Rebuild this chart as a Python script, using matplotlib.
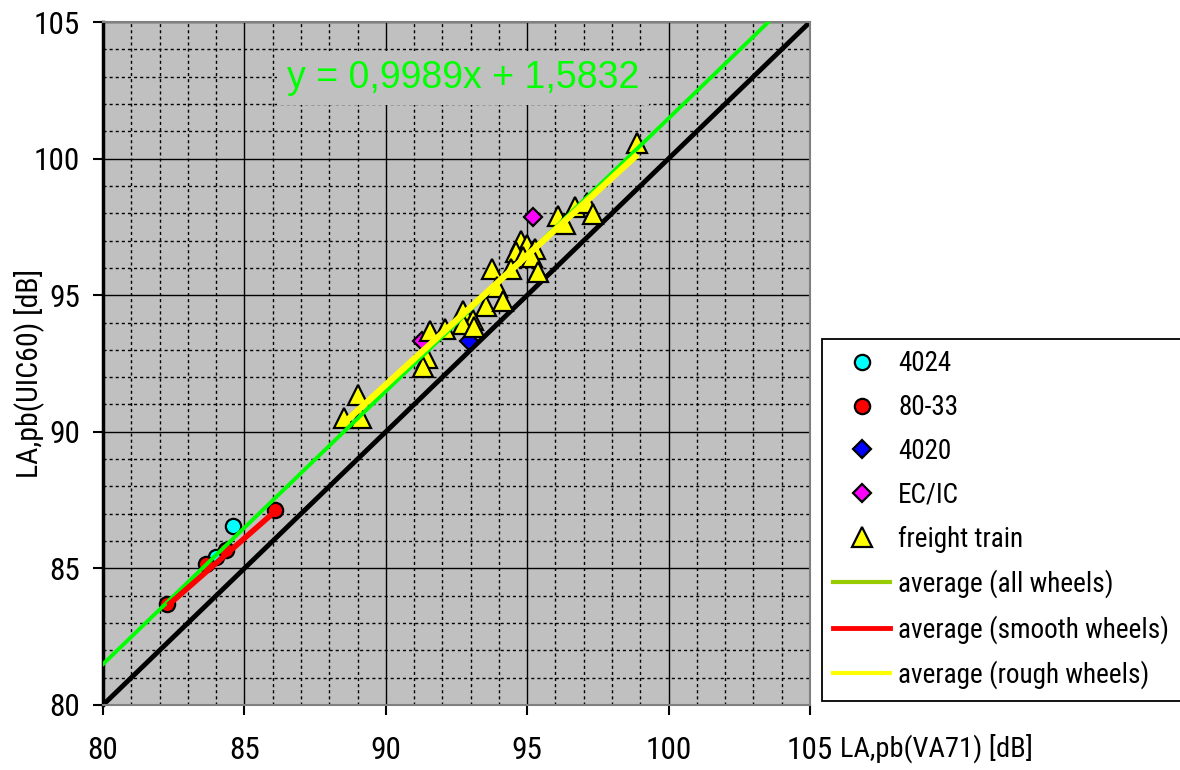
import os
import matplotlib
matplotlib.use("Agg")
import matplotlib.pyplot as plt
from matplotlib import font_manager as fm
from matplotlib.lines import Line2D
from matplotlib.ticker import MultipleLocator
import numpy as np

# Pass-by levels, VA71 (x) against UIC60 (y), in dB(A)
loco_4024_x = [84.6, 84.0]
loco_4024_y = [86.55, 85.4]

emu_8033_x = [82.27, 83.63, 84.34, 86.08]
emu_8033_y = [83.70, 85.16, 85.67, 87.14]

loco_4020_x = [92.94]
loco_4020_y = [93.33]

ecic_x = [91.27, 95.19]
ecic_y = [93.33, 97.87]

freight_x = [98.87, 96.10, 96.69, 97.10, 97.34, 96.34, 94.78, 94.98, 94.62, 95.28,
             94.84, 95.16, 95.39, 93.77, 94.43, 93.92, 93.56, 94.13, 92.72, 93.09,
             92.72, 93.12, 92.09, 91.58, 91.44, 91.30, 89.03, 88.53, 89.11]
freight_y = [100.58, 97.90, 98.22, 98.36, 97.99, 97.61, 96.98, 96.84, 96.59, 96.68,
             96.40, 96.40, 95.85, 95.97, 95.97, 95.30, 94.60, 94.79, 94.42, 94.09,
             93.95, 93.83, 93.75, 93.69, 92.71, 92.38, 91.35, 90.52, 90.52]

# Regression of all wheels: y = a*x + b
all_slope = 0.9989
all_intercept = 1.5832

# Averages for smooth and rough wheels (line ends)
smooth_fit_x = [82.3, 86.1]
smooth_fit_y = [83.65, 87.1]
rough_fit_x = [88.5, 98.9]
rough_fit_y = [90.3, 100.15]

x_ticks = [80, 85, 90, 95, 100, 105]
y_ticks = [80, 85, 90, 95, 100, 105]


def find_narrow_font():
    """Pick a narrow sans-serif face if one is installed."""
    files = [f.fname for f in fm.fontManager.ttflist]
    prefs = ['liberationsansnarrow-regular', 'arialnarrow', 'arialn.',
             'robotocondensed-regular', 'dejavusanscondensed.', 'opensans_condensed-regular',
             'opensanscondensed-regular', 'notosans-condensed.', 'notosanscondensed-regular']
    for p in prefs:
        for fn in files:
            if p in os.path.basename(fn).lower().replace(' ', ''):
                return fn
    for fn in files:
        b = os.path.basename(fn).lower()
        if ('narrow' in b or 'condensed' in b) and 'bold' not in b and 'italic' not in b \
                and 'oblique' not in b and 'light' not in b and 'semi' not in b:
            return fn
    return None


narrow_file = find_narrow_font()
regular = ['Liberation Sans', 'DejaVu Sans']
plt.rcParams['font.family'] = regular


def narrow_prop(size):
    if narrow_file:
        return fm.FontProperties(fname=narrow_file, size=size)
    return fm.FontProperties(family=regular, size=size * 0.85)


W, H = 1180, 770
fig = plt.figure(figsize=(W / 100, H / 100), dpi=100)
fig.patch.set_facecolor('white')
ax = fig.add_axes([103 / W, (H - 705) / H, (810 - 103) / W, (705 - 22) / H])
ax.set_facecolor('#C0C0C0')

ax.set_xlim(x_ticks[0], x_ticks[-1])
ax.set_ylim(y_ticks[0], y_ticks[-1])
ax.set_xticks(x_ticks)
ax.set_yticks(y_ticks)
ax.xaxis.set_minor_locator(MultipleLocator(1))
ax.yaxis.set_minor_locator(MultipleLocator(1))

ax.set_axisbelow(True)
ax.grid(which='major', color='black', linewidth=1.0, linestyle='-')
ax.grid(which='minor', color='black', linewidth=1.0, linestyle=(0, (2.2, 2.2)))
ax.tick_params(which='minor', length=0)
ax.tick_params(which='major', direction='out', length=7.5, width=1.5, color='black')
ax.tick_params(axis='y', pad=9)
ax.tick_params(axis='x', pad=15)
tick_font = narrow_prop(22.5)
for lab in ax.get_xticklabels() + ax.get_yticklabels():
    lab.set_fontproperties(tick_font)

for side in ('top', 'right', 'bottom'):
    ax.spines[side].set_color('#808080')
    ax.spines[side].set_linewidth(1.5)
ax.spines['left'].set_color('black')
ax.spines['left'].set_linewidth(2.5)

# 1:1 reference line
ax.plot([x_ticks[0], x_ticks[-1]], [y_ticks[0], y_ticks[-1]], color='black',
        linewidth=3.5, zorder=2.5, solid_capstyle='butt')

mk = dict(linestyle='none', markeredgecolor='black', markeredgewidth=1.6, zorder=3)
h4024, = ax.plot(loco_4024_x, loco_4024_y, marker='o', markersize=11,
                 markerfacecolor='#00FFFF', label='4024', **mk)
h8033, = ax.plot(emu_8033_x, emu_8033_y, marker='o', markersize=11,
                 markerfacecolor='#FF0000', label='80-33', **mk)
h4020, = ax.plot(loco_4020_x, loco_4020_y, marker='D', markersize=9,
                 markerfacecolor='#0000FF', label='4020', **mk)
hecic, = ax.plot(ecic_x, ecic_y, marker='D', markersize=9,
                 markerfacecolor='#FF00FF', label='EC/IC', **mk)
hfreight, = ax.plot(freight_x, freight_y, marker='^', markersize=14,
                    markerfacecolor='#FFFF00', label='freight train', **mk)

# Trend lines
xs = np.array([x_ticks[0], x_ticks[-1]], dtype=float)
ax.plot(xs, all_slope * xs + all_intercept, color='#00FF00', linewidth=2.8, zorder=4)
ax.plot(smooth_fit_x, smooth_fit_y, color='#FF0000', linewidth=4, zorder=4,
        solid_capstyle='butt')
ax.plot(rough_fit_x, rough_fit_y, color='#FFFF00', linewidth=4.5, zorder=4,
        solid_capstyle='butt')

ax.text(92.73, 102.95,
        'y = {:.4f}x + {:.4f}'.format(all_slope, all_intercept).replace('.', ','),
        color='#00FF00', fontsize=27, family=regular, ha='center', va='center',
        zorder=5,
        bbox=dict(facecolor='#C0C0C0', edgecolor='none', boxstyle='square,pad=0.25'))

fig.text(29 / W, 1 - 373 / H, 'LA,pb(UIC60) [dB]', rotation=90,
         fontproperties=narrow_prop(21.5), ha='center', va='center')
fig.text(840 / W, 1 - 748 / H, 'LA,pb(VA71) [dB]', fontproperties=narrow_prop(20.5),
         ha='left', va='center')

handles = [h4024, h8033, h4020, hecic, hfreight,
           Line2D([], [], color='#99CC00', linewidth=3),
           Line2D([], [], color='#FF0000', linewidth=3.5),
           Line2D([], [], color='#FFFF00', linewidth=3)]
labels = ['4024', '80-33', '4020', 'EC/IC', 'freight train',
          'average (all wheels)', 'average (smooth wheels)', 'average (rough wheels)']
leg = fig.legend(handles, labels, loc='upper left',
                 bbox_to_anchor=(822 / W, 1 - 339 / H), bbox_transform=fig.transFigure,
                 borderaxespad=0, prop=narrow_prop(19.5), frameon=True, fancybox=False,
                 edgecolor='black', facecolor='white', framealpha=1,
                 numpoints=1, handlelength=2.1, handletextpad=0.3,
                 labelspacing=0.62, borderpad=0.42, markerscale=1.0)
leg.get_frame().set_linewidth(1.3)

fig.savefig('out.png', dpi=100)
